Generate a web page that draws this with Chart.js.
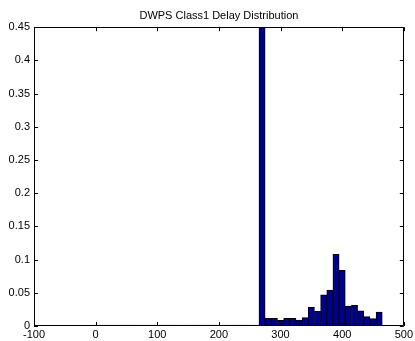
<!DOCTYPE html>
<html>
<head>
<meta charset="utf-8">
<script src="https://cdn.jsdelivr.net/npm/chart.js@4/dist/chart.umd.min.js"></script>
<style>
html,body{margin:0;padding:0;background:#fff;}
#wrap{width:415px;height:341px;position:relative;}
</style>
</head>
<body>
<div id="wrap"><canvas id="c" width="415" height="341"></canvas></div>
<script>
// Bin centers (delay) and relative frequencies
const binCenters = [0,10,20,30,40,50,60,70,80,90,100,110,120,130,140,150,160,170,180,190,200,210,220,230,240,250,260,
  270,280,290,300,310,320,330,340,350,360,370,380,390,400,410,420,430,440,450,460];
const frequencies = [0.0015,0.0015,0.0015,0.0015,0.0015,0.0015,0.0015,0.0015,0.0015,0.0015,0.0015,0.0015,0.0015,0.0015,
  0.0015,0.0015,0.0015,0.0015,0.0015,0.0015,0.0015,0.0015,0.0015,0.0015,0.0015,0.0015,0.0015,
  0.60,0.0115,0.0115,0.0086,0.0115,0.0115,0.009,0.0125,0.028,0.022,0.047,0.054,0.108,0.084,0.030,0.031,0.023,0.014,0.011,0.021];
const xTickValues = [-100,0,100,200,300,400,500];
const xTickLabels = ["-100","0","100","200","300","400","500"];
const yTickValues = [0,0.05,0.1,0.15,0.2,0.25,0.3,0.35,0.4,0.45];
const yTickLabels = ["0","0.05","0.1","0.15","0.2","0.25","0.3","0.35","0.4","0.45"];
const titleText = "DWPS Class1 Delay Distribution";

const points = binCenters.map((x,i)=>({x:x,y:frequencies[i]}));

const framePlugin = {
  id:'frame',
  afterDatasetsDraw(chart){
    const {ctx, chartArea:a, scales:{x,y}} = chart;
    ctx.save();
    ctx.strokeStyle='#000';
    ctx.lineWidth=1;
    ctx.beginPath();
    ctx.rect(Math.round(a.left)+0.5, Math.round(a.top)+0.5, Math.round(a.right-a.left)-1, Math.round(a.bottom-a.top)-1);
    ctx.stroke();
    const L=4;
    ctx.beginPath();
    xTickValues.forEach(v=>{
      const px=Math.round(x.getPixelForValue(v))+0.5;
      ctx.moveTo(px,a.bottom); ctx.lineTo(px,a.bottom-L);
      ctx.moveTo(px,a.top); ctx.lineTo(px,a.top+L);
    });
    yTickValues.forEach(v=>{
      const py=Math.round(y.getPixelForValue(v))+0.5;
      ctx.moveTo(a.left,py); ctx.lineTo(a.left+L,py);
      ctx.moveTo(a.right,py); ctx.lineTo(a.right-L,py);
    });
    ctx.stroke();
    ctx.restore();
  }
};

new Chart(document.getElementById('c'),{
  type:'bar',
  data:{datasets:[{
    data:points,
    backgroundColor:'#00008F',
    borderColor:'#000000',
    borderWidth:1,
    borderSkipped:false,
    barPercentage:1,
    categoryPercentage:1
  }]},
  options:{
    responsive:false,
    animation:false,
    devicePixelRatio:1,
    layout:{padding:{left:0,right:10,top:0,bottom:0}},
    plugins:{
      legend:{display:false},
      tooltip:{enabled:false},
      title:{display:true,text:titleText,fullSize:false,color:'#000',
        font:{family:'Liberation Sans, Arial, sans-serif',size:11,weight:'normal'},
        padding:{top:9,bottom:5}}
    },
    scales:{
      x:{type:'linear',min:-100,max:500,offset:false,
        afterBuildTicks:s=>{s.ticks=xTickValues.map(v=>({value:v}));},
        afterFit:s=>{s.height=15;},
        grid:{display:false,drawTicks:false,offset:false},
        border:{display:false},
        ticks:{padding:2,color:'#000',maxRotation:0,autoSkip:false,
          font:{family:'Liberation Sans, Arial, sans-serif',size:11},
          callback:(v)=>{const i=xTickValues.indexOf(v);return i>=0?xTickLabels[i]:'';}}
      },
      y:{type:'linear',min:0,max:0.45,
        afterBuildTicks:s=>{s.ticks=yTickValues.map(v=>({value:v}));},
        afterFit:s=>{s.width=34;},
        grid:{display:false,drawTicks:false},
        border:{display:false},
        ticks:{padding:4,color:'#000',autoSkip:false,
          font:{family:'Liberation Sans, Arial, sans-serif',size:11},
          callback:(v)=>{const i=yTickValues.findIndex(t=>Math.abs(t-v)<1e-9);return i>=0?yTickLabels[i]:'';}}
      }
    }
  },
  plugins:[framePlugin]
});
</script>
</body>
</html>
